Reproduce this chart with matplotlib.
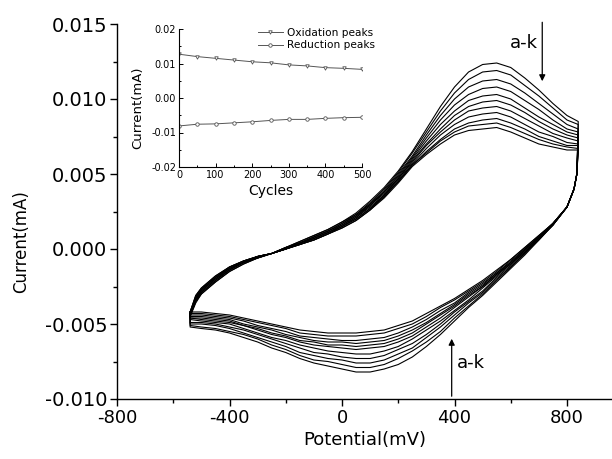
import numpy as np
import matplotlib
matplotlib.use("Agg")
import matplotlib.pyplot as plt

plt.rcParams['font.family'] = ['DejaVu Sans']
plt.rcParams['axes.unicode_minus'] = False

# ---------------- main CV data (current in microampere) ----------------
E_forward = [-540, -520, -500, -450, -400, -350, -300, -250, -200, -150, -100, -50, 0, 50, 100,
             150, 200, 250, 300, 350, 400, 450, 500, 550, 600, 650, 700, 750, 800, 840]
E_reverse = [835, 825, 800, 750, 700, 650, 600, 550, 500, 450, 400, 350, 300, 250, 200, 150,
             100, 50, 0, -50, -100, -150, -200, -250, -300, -350, -400, -450, -500, -540]

a_fwd = [-4.5,-3.6,-3.0,-2.2,-1.5,-1.0,-0.6,-0.3,0.1,0.5,0.9,1.3,1.8,2.4,3.2,4.1,5.2,6.5,8.0,9.5,10.8,11.8,12.3,12.4,12.1,11.4,10.6,9.7,8.9,8.5]
b_fwd = [-4.5,-3.5,-3.0,-2.2,-1.5,-1.0,-0.6,-0.3,0.1,0.5,0.9,1.3,1.8,2.3,3.1,4.0,5.1,6.4,7.8,9.2,10.4,11.3,11.8,11.9,11.6,10.9,10.2,9.4,8.6,8.3]
c_fwd = [-4.4,-3.5,-2.9,-2.1,-1.4,-0.9,-0.6,-0.3,0.1,0.4,0.8,1.2,1.7,2.3,3.0,3.9,5.0,6.2,7.6,8.9,10.0,10.8,11.2,11.3,11.0,10.4,9.7,9.0,8.3,8.0]
d_fwd = [-4.4,-3.4,-2.9,-2.1,-1.4,-0.9,-0.6,-0.3,0.1,0.4,0.8,1.2,1.7,2.2,3.0,3.8,4.9,6.1,7.4,8.6,9.6,10.3,10.7,10.8,10.5,9.9,9.3,8.6,8.0,7.8]
e_fwd = [-4.4,-3.4,-2.8,-2.0,-1.4,-0.9,-0.5,-0.3,0.0,0.4,0.8,1.2,1.6,2.2,2.9,3.8,4.8,6.0,7.2,8.3,9.2,9.9,10.2,10.3,10.0,9.4,8.8,8.3,7.8,7.6]
f_fwd = [-4.3,-3.3,-2.8,-2.0,-1.3,-0.9,-0.5,-0.3,0.0,0.4,0.7,1.1,1.6,2.1,2.9,3.7,4.7,5.9,7.0,8.0,8.9,9.5,9.8,9.9,9.6,9.1,8.5,8.0,7.6,7.4]
g_fwd = [-4.3,-3.3,-2.7,-1.9,-1.3,-0.9,-0.5,-0.3,0.0,0.4,0.7,1.1,1.5,2.1,2.8,3.6,4.7,5.8,6.9,7.8,8.6,9.2,9.4,9.5,9.2,8.7,8.2,7.7,7.4,7.2]
h_fwd = [-4.3,-3.2,-2.7,-1.9,-1.3,-0.8,-0.5,-0.3,0.0,0.3,0.7,1.1,1.5,2.0,2.7,3.6,4.6,5.7,6.7,7.6,8.3,8.8,9.0,9.1,8.8,8.3,7.8,7.5,7.1,7.0]
i_fwd = [-4.2,-3.2,-2.7,-1.9,-1.2,-0.8,-0.5,-0.3,0.0,0.3,0.6,1.0,1.5,2.0,2.7,3.5,4.5,5.6,6.5,7.3,8.0,8.4,8.6,8.7,8.4,8.0,7.5,7.2,6.9,6.9]
j_fwd = [-4.2,-3.1,-2.6,-1.8,-1.2,-0.8,-0.5,-0.3,0.0,0.3,0.6,1.0,1.4,1.9,2.6,3.5,4.5,5.6,6.4,7.2,7.8,8.2,8.3,8.4,8.1,7.7,7.3,7.0,6.8,6.7]
k_fwd = [-4.2,-3.1,-2.6,-1.8,-1.2,-0.8,-0.5,-0.3,0.0,0.3,0.6,1.0,1.4,1.9,2.6,3.4,4.4,5.5,6.3,7.0,7.6,7.9,8.0,8.1,7.8,7.4,7.0,6.8,6.6,6.6]

a_rev = [5.0,4.0,2.8,1.6,0.6,-0.4,-1.3,-2.2,-3.1,-3.9,-4.8,-5.7,-6.5,-7.2,-7.7,-8.0,-8.2,-8.2,-8.0,-7.8,-7.6,-7.3,-6.9,-6.6,-6.2,-5.9,-5.6,-5.4,-5.3,-5.2]
b_rev = [5.0,4.0,2.8,1.6,0.6,-0.3,-1.2,-2.1,-3.0,-3.8,-4.6,-5.5,-6.2,-6.8,-7.3,-7.7,-7.9,-7.9,-7.7,-7.5,-7.4,-7.1,-6.7,-6.4,-6.0,-5.7,-5.5,-5.3,-5.2,-5.1]
c_rev = [5.0,4.0,2.8,1.6,0.7,-0.3,-1.2,-2.0,-2.9,-3.6,-4.4,-5.2,-5.9,-6.6,-7.0,-7.4,-7.6,-7.6,-7.4,-7.3,-7.1,-6.9,-6.5,-6.2,-5.9,-5.6,-5.3,-5.1,-5.0,-5.0]
d_rev = [5.0,4.0,2.8,1.6,0.7,-0.2,-1.1,-1.9,-2.8,-3.5,-4.2,-5.0,-5.7,-6.3,-6.7,-7.1,-7.3,-7.3,-7.2,-7.0,-6.9,-6.6,-6.3,-6.0,-5.7,-5.4,-5.2,-5.0,-4.9,-4.9]
e_rev = [5.0,4.0,2.8,1.6,0.7,-0.2,-1.0,-1.8,-2.6,-3.4,-4.1,-4.8,-5.4,-6.0,-6.5,-6.8,-7.0,-7.0,-6.9,-6.8,-6.6,-6.4,-6.1,-5.9,-5.6,-5.3,-5.0,-4.9,-4.8,-4.7]
f_rev = [5.0,4.0,2.8,1.7,0.8,-0.1,-1.0,-1.7,-2.5,-3.2,-3.9,-4.6,-5.2,-5.8,-6.2,-6.5,-6.6,-6.7,-6.6,-6.5,-6.4,-6.2,-5.9,-5.7,-5.4,-5.1,-4.9,-4.8,-4.7,-4.6]
g_rev = [5.0,4.0,2.8,1.7,0.8,-0.1,-0.9,-1.7,-2.5,-3.1,-3.8,-4.4,-5.0,-5.6,-6.0,-6.3,-6.4,-6.5,-6.4,-6.4,-6.2,-6.1,-5.8,-5.6,-5.3,-5.1,-4.8,-4.7,-4.6,-4.6]
h_rev = [5.0,4.0,2.8,1.7,0.8,0.0,-0.9,-1.6,-2.4,-3.0,-3.7,-4.3,-4.9,-5.4,-5.8,-6.1,-6.2,-6.3,-6.2,-6.2,-6.1,-5.9,-5.7,-5.4,-5.2,-5.0,-4.7,-4.6,-4.5,-4.5]
i_rev = [5.0,4.0,2.8,1.7,0.8,0.0,-0.8,-1.6,-2.3,-2.9,-3.6,-4.1,-4.7,-5.2,-5.6,-5.9,-6.0,-6.1,-6.1,-6.0,-5.9,-5.8,-5.5,-5.3,-5.1,-4.8,-4.6,-4.5,-4.4,-4.4]
j_rev = [5.0,4.0,2.8,1.7,0.9,0.1,-0.7,-1.5,-2.2,-2.8,-3.4,-3.9,-4.5,-5.0,-5.3,-5.6,-5.7,-5.8,-5.8,-5.8,-5.7,-5.6,-5.3,-5.1,-4.9,-4.7,-4.5,-4.4,-4.3,-4.3]
k_rev = [5.0,4.0,2.8,1.7,0.9,0.1,-0.7,-1.4,-2.1,-2.7,-3.3,-3.8,-4.3,-4.8,-5.1,-5.4,-5.5,-5.6,-5.6,-5.6,-5.5,-5.4,-5.2,-5.0,-4.8,-4.6,-4.4,-4.3,-4.2,-4.2]

forward_scans = [a_fwd, b_fwd, c_fwd, d_fwd, e_fwd, f_fwd, g_fwd, h_fwd, i_fwd, j_fwd, k_fwd]
reverse_scans = [a_rev, b_rev, c_rev, d_rev, e_rev, f_rev, g_rev, h_rev, i_rev, j_rev, k_rev]

# ---------------- inset data ----------------
cycles = [0, 50, 100, 150, 200, 250, 300, 350, 400, 450, 500]
oxidation_peaks = [0.0127, 0.0120, 0.0115, 0.0110, 0.0105, 0.0102, 0.0096, 0.0093, 0.0088, 0.0086, 0.0083]
reduction_peaks = [-0.0081, -0.0076, -0.0075, -0.0072, -0.0069, -0.0065, -0.0062, -0.0062, -0.0059, -0.0057, -0.0056]

x_ticks = [-800, -400, 0, 400, 800]
y_ticks = [-0.010, -0.005, 0.000, 0.005, 0.010, 0.015]
inset_x_ticks = [0, 100, 200, 300, 400, 500]
inset_y_ticks = [-0.02, -0.01, 0.00, 0.01, 0.02]

fig = plt.figure(figsize=(6.12, 4.59), dpi=100)
ax = fig.add_axes([117/612, 1 - 399/459, (612 - 117)/612, (399 - 24)/459])

for fwd, rev in zip(forward_scans, reverse_scans):
    E = list(E_forward) + list(E_reverse) + [E_forward[0]]
    I = np.array(list(fwd) + list(rev) + [fwd[0]]) / 1000.0
    ax.plot(E, I, color='black', lw=0.8)

ax.set_xlim(-800, 960)
ax.set_ylim(-0.010, 0.015)
ax.set_xticks(x_ticks)
ax.set_xticks([-600, -200, 200, 600], minor=True)
ax.set_yticks(y_ticks)
ax.set_yticks([-0.0075, -0.0025, 0.0025, 0.0075, 0.0125], minor=True)
ax.set_yticklabels(['%.3f' % v for v in y_ticks])
ax.spines['top'].set_visible(False)
ax.spines['right'].set_visible(False)
for s in ['left', 'bottom']:
    ax.spines[s].set_linewidth(1.0)
ax.tick_params(which='major', direction='out', length=5, width=1.0, pad=2)
ax.tick_params(which='minor', direction='out', length=3, width=1.0)
ax.tick_params(axis='y', labelsize=14)
ax.tick_params(axis='x', labelsize=13)
ax.set_xlabel('Potential(mV)', fontsize=13, labelpad=3)
ax.set_ylabel('Current(mA)', fontsize=12)
ax.yaxis.set_label_coords(-0.175, 0.42)

# arrows
ax.annotate('', xy=(712, 0.0110), xytext=(712, 0.0153),
            arrowprops=dict(arrowstyle='-|>', color='black', lw=0.9, mutation_scale=9),
            annotation_clip=False)
ax.text(695, 0.0137, 'a-k', fontsize=13, ha='right', va='center')
ax.annotate('', xy=(390, -0.0058), xytext=(390, -0.0100),
            arrowprops=dict(arrowstyle='-|>', color='black', lw=0.9, mutation_scale=9),
            annotation_clip=False)
ax.text(410, -0.0076, 'a-k', fontsize=13, ha='left', va='center')

# ---------------- inset ----------------
ins = fig.add_axes([179/612, 1 - 167/459, (362 - 179)/612, (167 - 29)/459])
ins.plot(cycles, oxidation_peaks, color='#555555', lw=0.7, marker='v', ms=2.5,
         mfc='white', mec='#555555', mew=0.6, label='Oxidation peaks')
ins.plot(cycles, reduction_peaks, color='#555555', lw=0.7, marker='o', ms=2.5,
         mfc='white', mec='#555555', mew=0.6, label='Reduction peaks')
ins.set_xlim(0, 500)
ins.set_ylim(-0.02, 0.02)
ins.set_xticks(inset_x_ticks)
ins.set_xticks([50, 150, 250, 350, 450], minor=True)
ins.set_yticks(inset_y_ticks)
ins.set_yticks([-0.015, -0.005, 0.005, 0.015], minor=True)
ins.set_yticklabels(['%.2f' % v for v in inset_y_ticks])
ins.spines['top'].set_visible(False)
ins.spines['right'].set_visible(False)
for s in ['left', 'bottom']:
    ins.spines[s].set_linewidth(0.8)
ins.tick_params(which='major', direction='in', length=3, width=0.7, labelsize=7, pad=2)
ins.tick_params(which='minor', direction='in', length=1.5, width=0.7)
ins.set_facecolor('none')
ins.set_xlabel('Cycles', fontsize=10, labelpad=3)
ins.set_ylabel('Current(mA)', fontsize=9.5, labelpad=1)
ins.yaxis.set_label_coords(-0.19, 0.43)
ins.legend(loc='upper left', bbox_to_anchor=(0.43, 1.01), frameon=False,
           fontsize=7.6, handlelength=2.4, handletextpad=0.4, labelspacing=0.25,
           borderaxespad=0.0, borderpad=0.0)

fig.savefig('out.png', dpi=100)
